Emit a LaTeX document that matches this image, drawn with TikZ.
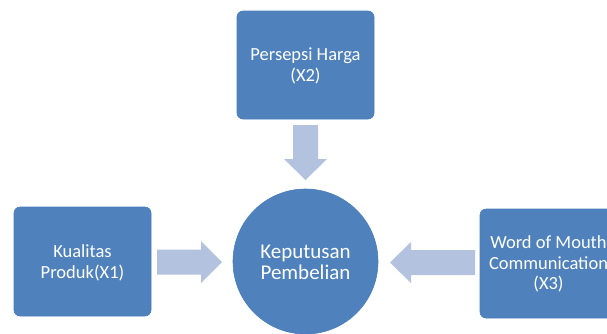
\documentclass[tikz,border=0pt]{standalone}
\usepackage{fontspec}
\setmainfont{Carlito}
\definecolor{boxblue}{HTML}{4F81BD}
\definecolor{boxedge}{HTML}{4A7EBB}
\definecolor{arrowblue}{HTML}{B3C3DF}
\begin{document}
\begin{tikzpicture}[x=1pt,y=-1pt,
  varbox/.style={fill=boxblue,draw=boxedge,line width=0.6pt,rounded corners=6pt},
  lbl/.style={text=white,align=center,font=\fontsize{18.5}{20.7}\selectfont},
  blockarrow/.style={fill=arrowblue,draw=none}]
\useasboundingbox (0,0) rectangle (607,333);
\clip (0,0) rectangle (607,333);
% boxes
\draw[varbox] (237,11) rectangle (374,119);
\node[lbl] (x2) at (305.5,66) {Persepsi Harga\\(X2)};
\draw[varbox] (14,207) rectangle (151,316);
\node[lbl] (x1) at (82.5,263) {Kualitas\\Produk(X1)};
\draw[varbox] (480,209) rectangle (617,318);
\node[lbl] (x3) at (548.5,264) {Word of Mouth\\Communication\\(X3)};
% circle
\fill[boxblue,draw=boxedge,line width=0.6pt] (305.5,261.5) circle (72.5);
\node[lbl,font=\fontsize{21}{21}\selectfont] (y) at (305.5,262) {Keputusan\\Pembelian};
% block arrows
\fill[blockarrow] (293,125) -- (318,125) -- (318,159) -- (327,159) -- (305.5,180) -- (284,159) -- (293,159) -- cycle;
\fill[blockarrow] (157,249.5) -- (201,249.5) -- (201,241) -- (222,262) -- (201,283) -- (201,274.5) -- (157,274.5) -- cycle;
\fill[blockarrow] (475,250) -- (411,250) -- (411,242) -- (390,262.5) -- (411,283) -- (411,275) -- (475,275) -- cycle;
\end{tikzpicture}
\end{document}
